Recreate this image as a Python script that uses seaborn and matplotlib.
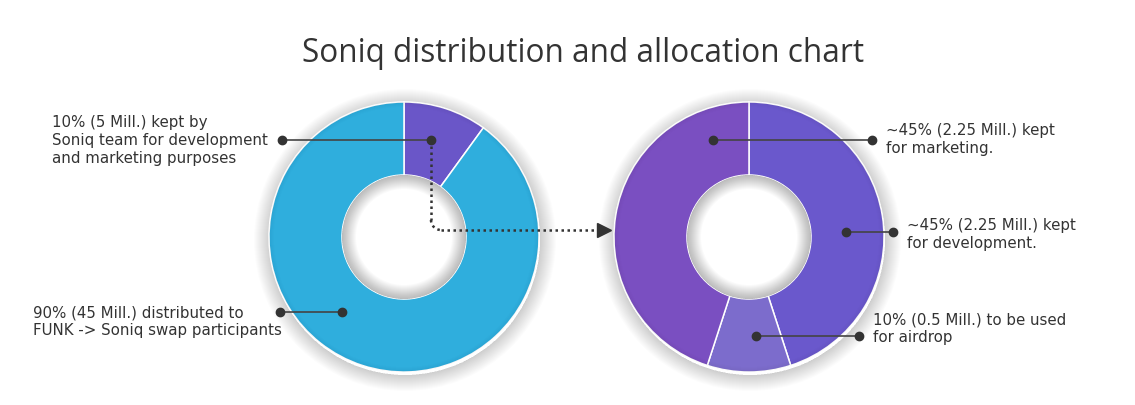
import numpy as np
import matplotlib
matplotlib.use("Agg")
import matplotlib.pyplot as plt
from matplotlib.patches import Wedge, Arc
import seaborn as sns

# Data
left_labels = ["10% (5 Mill.) kept by\nSoniq team for development\nand marketing purposes",
               "90% (45 Mill.) distributed to\nFUNK -> Soniq swap participants"]
left_shares = [10, 90]
left_colors = ["#6a56c8", "#2faedd"]

right_labels = ["~45% (2.25 Mill.) kept\nfor development.",
                "10% (0.5 Mill.) to be used\nfor airdrop",
                "~45% (2.25 Mill.) kept\nfor marketing."]
right_shares = [45, 10, 45]
right_colors = ["#6a58cc", "#7c6ccc", "#7a4fc1"]

title = "Soniq distribution and allocation chart"

sns.set_theme(style="white")
plt.rcParams['font.family'] = ['DejaVu Sans']

W, H = 1135, 406
fig = plt.figure(figsize=(W / 100, H / 100), dpi=100)
ax = fig.add_axes([0, 0, 1, 1])


def py(y):
    # pixel row -> data y (y axis points up)
    return H - y


R_OUT, R_IN = 135, 62
left_c = (404, py(238))
right_c = (749, py(238))


def shadows(c):
    # soft outer drop shadow
    for k in range(16):
        ax.add_patch(Wedge((c[0] + 1, c[1] - 3), R_OUT + k + 1, 0, 360, width=k + 1,
                           color="black", alpha=0.011, lw=0, zorder=1))


def inner_shadow(c):
    for k in range(14):
        ax.add_patch(Wedge(c, R_IN, 0, 360, width=k + 1,
                           color="black", alpha=0.02, lw=0, zorder=4))
    for k in range(5):
        ax.add_patch(Wedge(c, R_OUT, 0, 360, width=k + 1,
                           color="black", alpha=0.008, lw=0, zorder=4))


def donut(shares, colors, c):
    shadows(c)
    ax.pie(shares, colors=colors, radius=R_OUT, center=c, startangle=90,
           counterclock=False, frame=True,
           wedgeprops=dict(width=R_OUT - R_IN, edgecolor="white", linewidth=1.1, zorder=3))
    inner_shadow(c)


donut(left_shares, left_colors, left_c)
donut(right_shares, right_colors, right_c)

# Callouts: (dot inside wedge, dot at text, text position)
txt_color = "#333333"
callouts = [
    ((431, 141), (282, 141), (52, 140), left_labels[0]),
    ((342, 313), (280, 313), (33, 322), left_labels[1]),
    ((713, 141), (872, 141), (886, 140), right_labels[2]),
    ((846, 233), (893, 233), (907, 235), right_labels[0]),
    ((756, 337), (859, 337), (873, 329), right_labels[1]),
]
for (x0, y0), (x1, y1), (tx, ty), label in callouts:
    ax.plot([x0, x1], [py(y0), py(y1)], color="#444444", lw=1.2, zorder=6)
    ax.plot([x0, x1], [py(y0), py(y1)], "o", color="#333333", ms=6, zorder=7)
    ax.text(tx, py(ty), label, ha="left", va="center", fontsize=10.8,
            color=txt_color, linespacing=1.25, zorder=8)

# Dotted connector from left slice to right donut
dots = (0, (1, 1.4))
ax.plot([431, 431], [py(141), py(221)], ls=dots, color="#333333", lw=1.8, zorder=6)
ax.add_patch(Arc((441, py(221)), 20, 20, theta1=180, theta2=270,
                 ls=dots, color="#333333", lw=1.8, zorder=6))
ax.plot([441, 600], [py(231), py(231)], ls=dots, color="#333333", lw=1.8, zorder=6)
ax.plot([604], [py(231)], marker=">", color="#333333", ms=10, zorder=7)

ax.text(583, py(53), title, ha="center", va="center", fontsize=22.7,
        color="#333333", family=["Open Sans", "DejaVu Sans"])

ax.set_xlim(0, W)
ax.set_ylim(0, H)
ax.set_aspect("auto")
ax.axis("off")

fig.savefig("out.png", dpi=100, facecolor="white")
